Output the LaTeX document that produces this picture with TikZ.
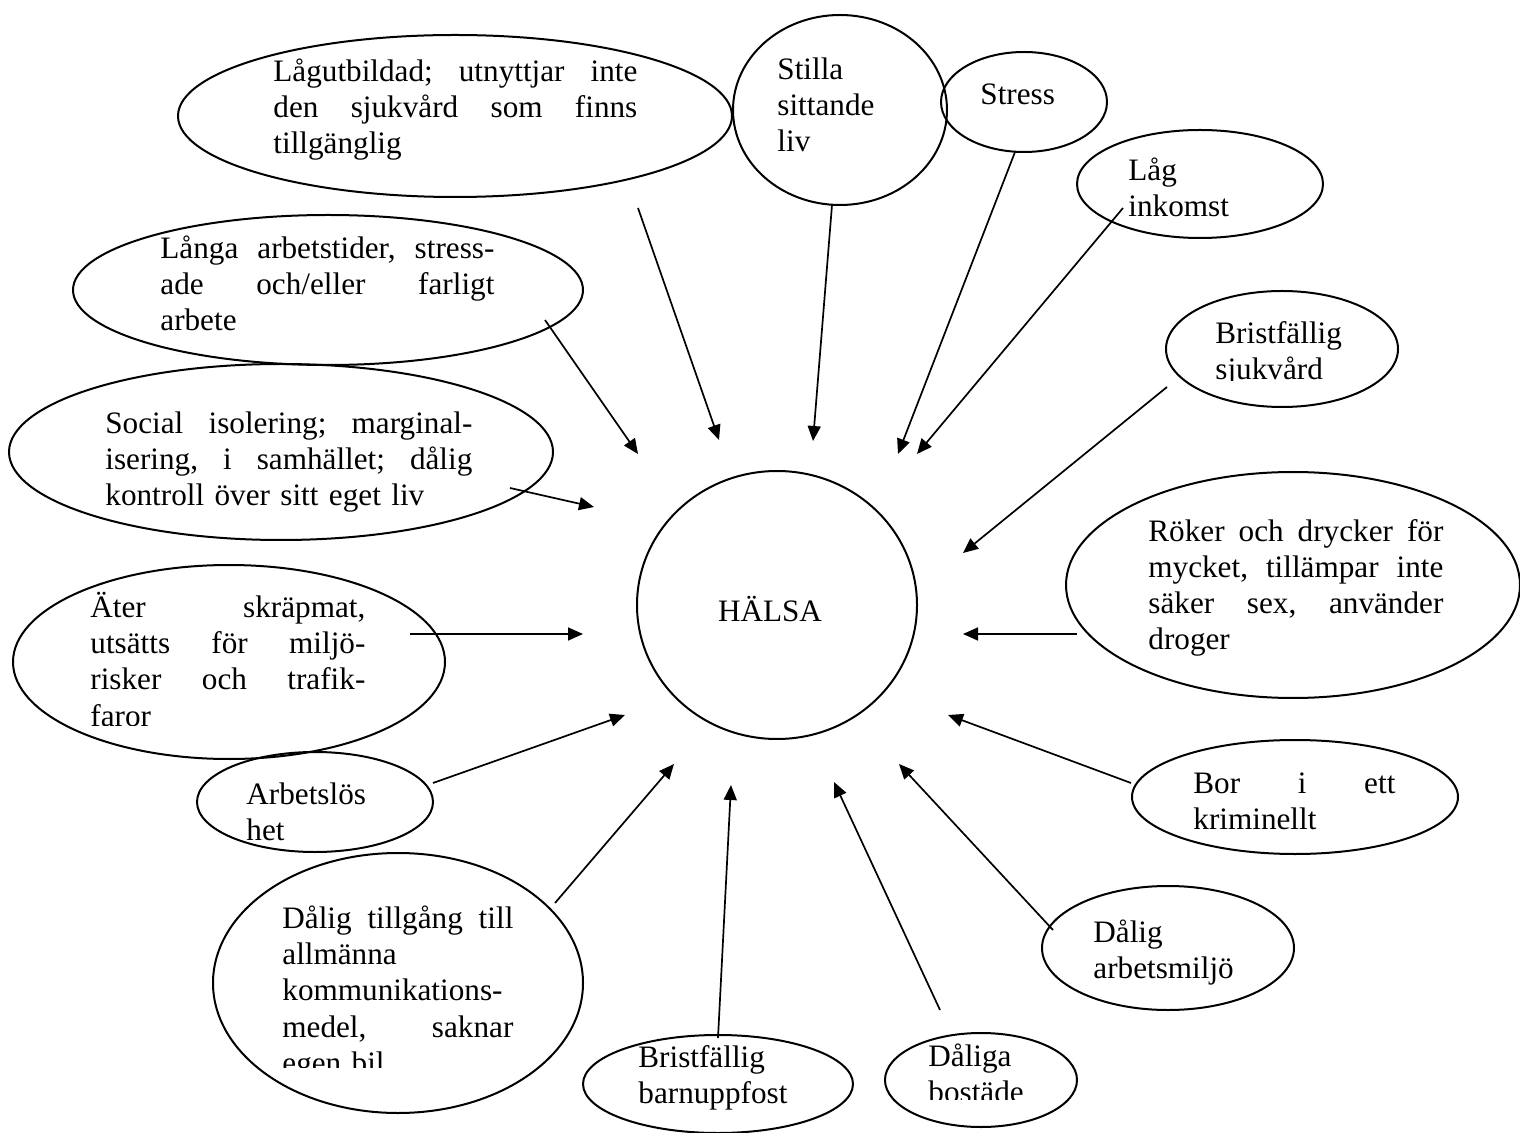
\documentclass[tikz,border=0pt]{standalone}
\usepackage{fontspec}
\setmainfont{Liberation Serif}
\usetikzlibrary{shapes.geometric,arrows.meta}
\setlength{\parindent}{0pt}
\newcommand\jl[2]{\leavevmode\hbox to #1{#2}}
\newcommand\tstrut{\rule{0pt}{15pt}}
\tikzset{
  oval/.style={draw, ellipse, line width=1pt, inner sep=0pt},
  txt/.style={inner sep=0pt, anchor=north west, align=left, text width=#1,
    font=\fontsize{15.6pt}{18.1pt}\selectfont},
  txt/.default=150pt,
  arr/.style={line width=0.85pt, -{Triangle[length=7.5pt,width=6.5pt]}},
}
\begin{document}
\begin{tikzpicture}[x=0.5pt,y=-0.5pt]
\useasboundingbox (0,0) rectangle (1520,1133);

% ellipses
\node[oval, minimum width=277pt, minimum height=81pt] (e1) at (455,116) {};
\node[oval, minimum width=107pt, minimum height=95pt] (e2) at (840,110) {};
\node[oval, minimum width=83pt, minimum height=50pt] (e3) at (1024,102) {};
\node[oval, minimum width=123pt, minimum height=54pt] (e4) at (1200,184) {};
\node[oval, minimum width=116pt, minimum height=58pt] (e5) at (1282,349) {};
\node[oval, minimum width=227pt, minimum height=113pt] (e6) at (1293,585) {};
\node[oval, minimum width=163pt, minimum height=57pt] (e7) at (1295,797) {};
\node[oval, minimum width=126pt, minimum height=62pt] (e8) at (1168,948) {};
\node[oval, minimum width=96pt, minimum height=47pt] (e9) at (981,1080) {};
\node[oval, minimum width=135pt, minimum height=49pt] (e10) at (718,1084) {};
\node[oval, minimum width=185pt, minimum height=130pt] (e11) at (398,983) {};
\node[oval, minimum width=118pt, minimum height=50pt] (e12) at (315,802) {};
\node[oval, minimum width=216pt, minimum height=97pt] (e13) at (229,662) {};
\node[oval, minimum width=272pt, minimum height=88pt] (e14) at (281,452) {};
\node[oval, minimum width=255pt, minimum height=75pt] (e15) at (328,290) {};
\node[oval, minimum width=140pt, minimum height=134pt] (c) at (777,605) {};

% texts
\node[txt=182pt] (t1) at (273,51) {\tstrut\jl{182pt}{Lågutbildad;\hfill utnyttjar\hfill inte}\\ \jl{182pt}{den\hfill sjukvård\hfill som\hfill finns}\\ tillgänglig};
\node[txt] (t2) at (777,49) {\tstrut Stilla\\ sittande\\ liv};
\node[txt] (t3) at (980,74) {\tstrut Stress};
\begin{scope}
\clip (1100,120) rectangle (1320,217);
\node[txt] (t4) at (1128,150) {\tstrut Låg\\ inkomst};
\end{scope}
\begin{scope}
\clip (1190,290) rectangle (1400,381);
\node[txt] (t5) at (1215,313) {\tstrut Bristfällig\\ sjukvård};
\end{scope}
\node[txt=147.5pt] (t6) at (1148,511) {\tstrut\jl{147.5pt}{Röker\hfill och\hfill drycker\hfill för}\\ \jl{147.5pt}{mycket,\hfill tillämpar\hfill inte}\\ \jl{147.5pt}{säker\hfill sex,\hfill använder}\\ droger};
\node[txt=101pt] (t7) at (1193,763) {\tstrut\jl{101pt}{Bor\hfill i\hfill ett}\\ kriminellt};
\node[txt] (t8) at (1093,912) {\tstrut Dålig\\ arbetsmiljö};
\begin{scope}
\clip (900,1030) rectangle (1080,1099);
\node[txt] (t9) at (928,1036) {\tstrut Dåliga\\ bostäde};
\end{scope}
\node[txt] (t10) at (638,1037) {\tstrut Bristfällig\\ barnuppfost};
\begin{scope}
\clip (260,860) rectangle (560,1067);
\node[txt=115.5pt] (t11) at (282,898) {\tstrut\jl{115.5pt}{Dålig\hfill tillgång\hfill till}\\ allmänna\\ kommunikations-\\ \jl{115.5pt}{medel,\hfill saknar}\\ egen bil};
\end{scope}
\node[txt] (t12) at (246,774) {\tstrut Arbetslös\\ het};
\begin{scope}
\clip (60,570) rectangle (420,725);
\node[txt=137.5pt] (t13) at (90,587) {\tstrut\jl{137.5pt}{Äter\hfill skräpmat,}\\ \jl{137.5pt}{utsätts\hfill för\hfill miljö-}\\ \jl{137.5pt}{risker\hfill och\hfill trafik-}\\ faror};
\end{scope}
\node[txt=183.5pt] (t14) at (105,403) {\tstrut\jl{183.5pt}{Social\hfill isolering;\hfill marginal-}\\ \jl{183.5pt}{isering,\hfill i\hfill samhället;\hfill dålig}\\ kontroll över sitt eget liv};
\node[txt=167pt] (t15) at (160,228) {\tstrut\jl{167pt}{Långa\hfill arbetstider,\hfill stress-}\\ \jl{167pt}{ade\hfill och/eller\hfill farligt}\\ arbete};
\node[inner sep=0pt, anchor=base, font=\fontsize{15.6pt}{18pt}\selectfont] (h) at (770,621) {HÄLSA};

% arrow end points
\coordinate (s1) at (638,208);  \coordinate (d1) at (719,440);
\coordinate (s2) at (832,205);  \coordinate (d2) at (813,441);
\coordinate (s3) at (1015,152); \coordinate (d3) at (898,454);
\coordinate (s4) at (1123,208); \coordinate (d4) at (917,454);
\coordinate (s5) at (1167,387); \coordinate (d5) at (963,553);
\coordinate (s6) at (1077,634); \coordinate (d6) at (963,634);
\coordinate (s7) at (1131,783); \coordinate (d7) at (948,715);
\coordinate (s8) at (1053,930); \coordinate (d8) at (899,764);
\coordinate (s9) at (940,1010); \coordinate (d9) at (834,782);
\coordinate (s10) at (718,1038); \coordinate (d10) at (731,785);
\coordinate (s11) at (555,903); \coordinate (d11) at (674,764);
\coordinate (s12) at (433,783); \coordinate (d12) at (625,715);
\coordinate (s13) at (410,634); \coordinate (d13) at (583,634);
\coordinate (s14) at (510,488); \coordinate (d14) at (594,507);
\coordinate (s15) at (545,320); \coordinate (d15) at (638,454);

\foreach \i in {1,...,15} { \draw[arr] (s\i) -- (d\i); }
\end{tikzpicture}
\end{document}
